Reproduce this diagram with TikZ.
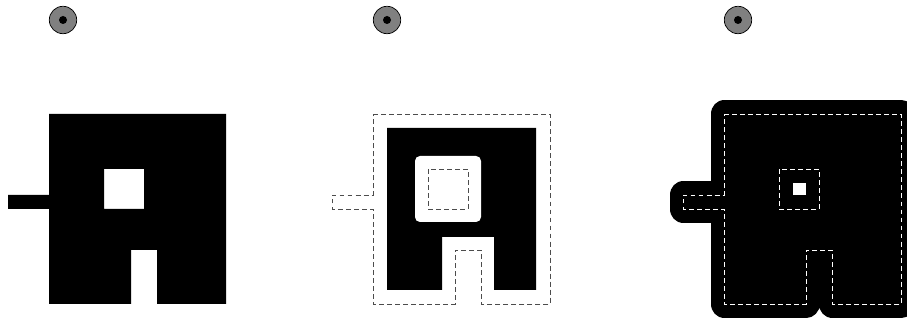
\documentclass[tikz,border=0pt]{standalone}
\usepackage{tikz}

% outline of the region, top left corner of the big square at (0,0)
\newcommand{\regionpath}{(0,0) -- (177,0) -- (177,190) -- (108,190) -- (108,136)
    -- (82,136) -- (82,190) -- (0,190) -- (0,95) -- (-41,95) -- (-41,81) -- (0,81)
    -- cycle (55,55) rectangle (95,95)}

\begin{document}
\begin{tikzpicture}[
        x=0.025cm, y=-0.025cm,
        marker/.style={draw, circle, fill=black!50, line width=0.5pt, inner sep=0pt, minimum size=0.685cm},
        markdot/.style={circle, fill=black, inner sep=0pt, minimum size=0.2cm},
        outline/.style={draw=black!70, line width=0.7pt, dash pattern=on 3.5pt off 2.2pt},
        dilated/.style={fill=black, draw=black, line width=0.675cm, line join=round, even odd rule}
    ]
        \useasboundingbox (0,0) rectangle (907,320);
        \clip (0,0) rectangle (907,320);

        % original region
        \node[marker] (mark1) at (63,20) {};
        \node[markdot] (dot1) at (mark1) {};
        \begin{scope}[shift={(49,114)}]
            \fill[even odd rule] \regionpath;
        \end{scope}

        % eroded region
        \node[marker] (mark2) at (387,20) {};
        \node[markdot] (dot2) at (mark2) {};
        \begin{scope}[shift={(373,114)}]
            \fill (14,14) -- (163,14) -- (163,176) -- (121,176) -- (121,123)
                -- (69,123) -- (69,176) -- (14,176) -- cycle;
            \fill[white, rounded corners=3.5pt] (42,42) rectangle (108,108);
            \draw[outline] \regionpath;
        \end{scope}

        % dilated region
        \node[marker] (mark3) at (738,20) {};
        \node[markdot] (dot3) at (mark3) {};
        \begin{scope}[shift={(724,114)}]
            \path[dilated] \regionpath;
            \draw[outline, draw=white] \regionpath;
        \end{scope}
    \end{tikzpicture}
\end{document}
